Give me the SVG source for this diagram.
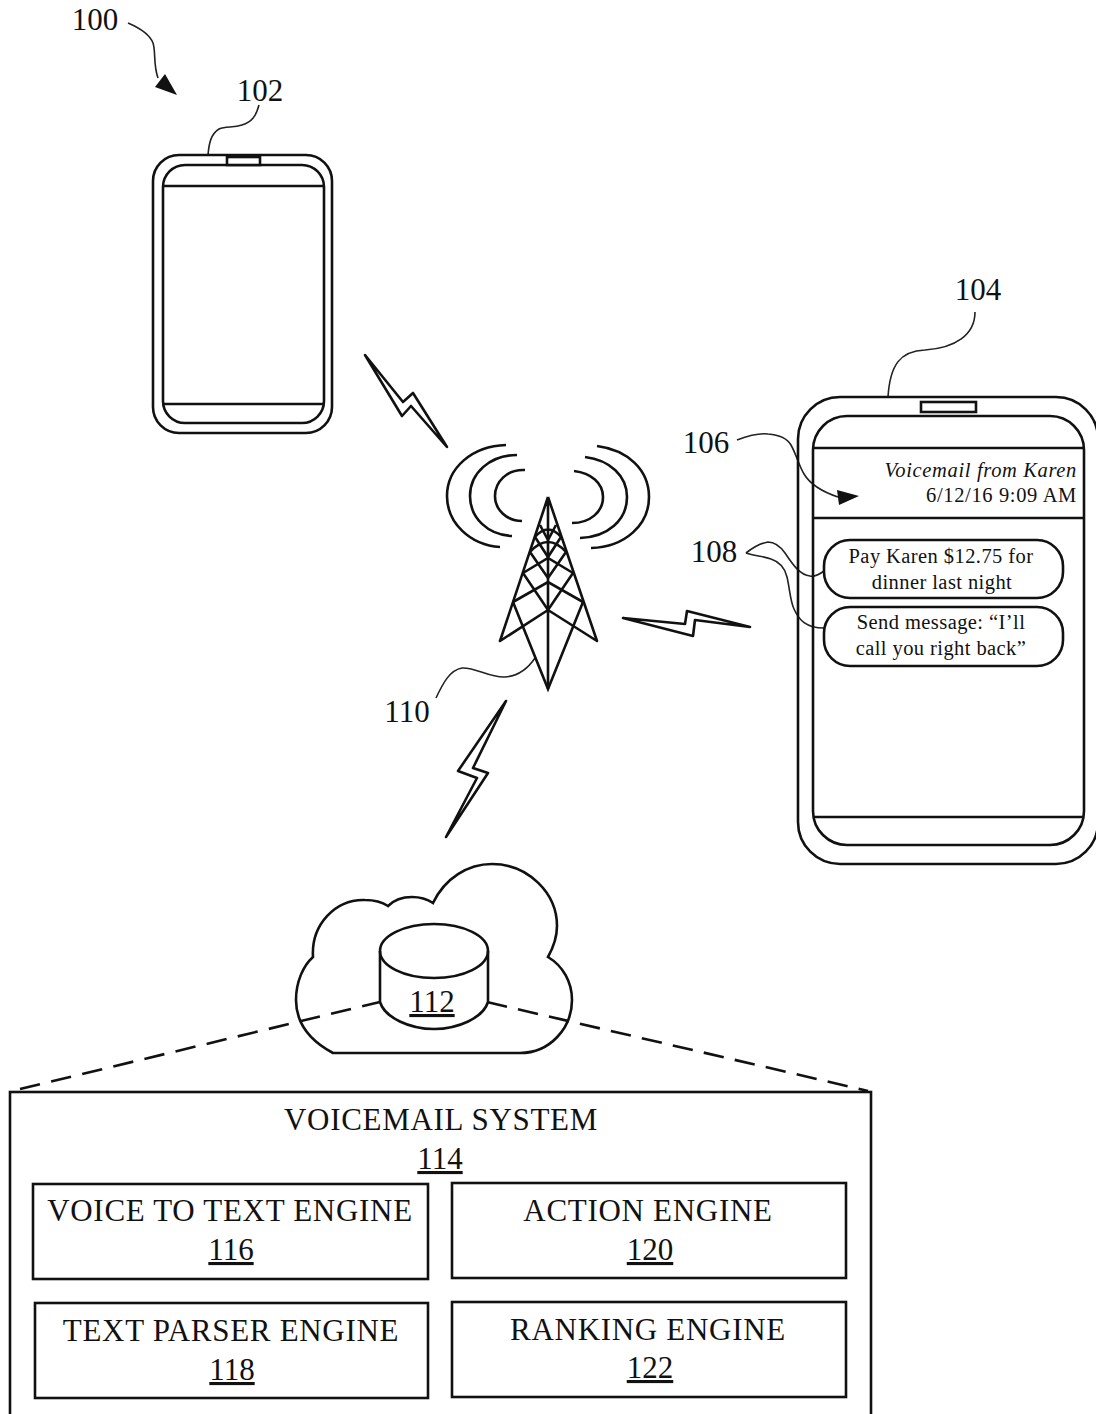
<svg xmlns="http://www.w3.org/2000/svg" width="1096" height="1414" viewBox="0 0 1096 1414">
<style>
text{font-family:"Liberation Serif","Times New Roman",serif;fill:#111}
.t{font-size:31px;text-anchor:middle}
.c{letter-spacing:.7px}
.u{text-decoration:underline}
.s{font-size:20.5px;text-anchor:middle;letter-spacing:.42px}
.e{font-size:20.5px;text-anchor:end;letter-spacing:.65px}
.l{fill:none;stroke:#111;stroke-width:2.6}
.m{fill:none;stroke:#111;stroke-width:2.6}
.h{fill:none;stroke:#222;stroke-width:1.6}
.b{fill:#fff;stroke:#111;stroke-width:2.6}
.a{fill:#111;stroke:none}
.d{fill:none;stroke:#111;stroke-width:2.6}
</style>
<rect width="1096" height="1414" fill="#fff"/>
<g id="connectors">
<path class="h" d="M128 23C142 29 150 35 153 43C156 52 153 64 158 78"/>
<path class="a" d="M155 87L165 74L177 95Z"/>
<path class="h" d="M259 105C256 116 252 122 242 125C233 128 226 126 219 129C211 134 209 143 208 155"/>
<path class="h" d="M975 312C975 335 955 348 925 350C900 351 890 365 888 397"/>
<path class="h" d="M737 440C750 435 760 433 768 434C780 435 787 438 791 445C797 456 799 466 804 474C810 484 820 491 838 497"/>
<path class="a" d="M837 490L859 496L839 505Z"/>
<path class="h" d="M746 553C755 546 762 543 768 542C775 542 780 546 785 553C793 565 800 575 810 576C815 577 820 574 824 571"/>
<path class="h" d="M746 553C755 556 763 556 771 559C780 562 785 568 787 577C790 590 790 600 794 609C799 620 806 628 824 628"/>
<path class="h" d="M436 698C443 683 450 670 462 668C475 667 490 678 505 677C518 676 527 670 535 658"/>
<path class="m" stroke-linejoin="round" d="M365 355L403 402L413 393L447 447L411 406L402 416Z"/>
<path class="m" stroke-linejoin="round" d="M623 618L685 624L687 611L750 627L695 620L693 636Z"/>
<path class="m" stroke-linejoin="round" d="M506 701L458 771L477 778L446 837L488 773L473 768Z"/>
<path class="d" stroke-dasharray="20.5 11.5" d="M20 1089L380 1002"/>
<path class="d" stroke-dasharray="20.5 11.3" d="M487 1002L868 1091"/>
</g>
<g id="node-102">
<rect class="l" x="153" y="155" width="179" height="278" rx="26"/>
<rect class="l" x="163" y="165" width="161" height="258" rx="22"/>
<path class="l" d="M163 186H324M163 404H324"/>
<rect class="b" x="227" y="157" width="33" height="8"/>
</g>
<g id="node-104">
<rect class="l" x="798" y="397" width="300" height="467" rx="42"/>
<rect class="l" x="813" y="416" width="271" height="429" rx="34"/>
<path class="l" d="M813 448H1084M813 518H1084M813 817H1084"/>
<rect class="b" x="921" y="402" width="55" height="10"/>
<text class="e" x="1077" y="477" font-style="italic">Voicemail from Karen</text>
<text class="e" x="1077" y="502">6/12/16 9:09 AM</text>
</g>
<g id="node-108a">
<rect class="l" x="824" y="540" width="239" height="58" rx="26"/>
<text class="s" x="941" y="563">Pay Karen $12.75 for</text>
<text class="s" x="942" y="589">dinner last night</text>
</g>
<g id="node-108b">
<rect class="l" x="824" y="607" width="239" height="59" rx="26"/>
<text class="s" x="941" y="629">Send message: “I’ll</text>
<text class="s" x="941" y="655">call you right back”</text>
</g>
<g id="node-110">
<path class="l" d="M506 445C472 446 447 468 447 496C447 523 470 545 500 547M517 455C490 455 470 473 470 496C470 518 488 535 512 536M525 470C507 469 495 482 495 496C495 510 507 521 522 521"/>
<path class="l" d="M597 446C628 450 649 470 649 497C649 525 625 547 591 548M585 457C610 460 627 476 627 497C627 520 608 537 580 538M574 471C591 473 603 483 603 497C603 512 590 523 572 523"/>
<path class="m" stroke-linejoin="round" d="M548 497V689M548 497L500 641L548 610L597 641L548 497"/>
<path class="m" d="M513 602L548 689L583 602"/>
<path class="m" d="M513 602L548 582L583 602M523 573L548 610L573 573M523 573L548 558L573 573"/>
<path class="m" stroke-width="2" d="M530 552L548 578L566 552M530 552Q548 532 566 552M535 537L548 557L561 537M535 537Q548 522 561 537M540 525L548 540L556 525"/>
</g>
<g id="node-cloud">
<path class="l" d="M333 1053C305 1038 296 1020 296 1000C296 982 303 966 313 957C311 925 335 899 365 900C375 900 382 902 388 906C394 900 403 897 412 897C420 897 427 899 433 903C445 878 468 864 492 864C528 864 557 893 557 926C557 937 553 948 548 957C563 966 572 982 572 1000C572 1028 550 1053 520 1053Z"/>
</g>
<g id="node-112">
<ellipse class="l" cx="434" cy="951" rx="54" ry="27"/>
<path class="l" d="M380 951V1002C385 1018 410 1029 434 1029C458 1029 483 1018 488 1002V951"/>
<text class="t u" x="432" y="1012">112</text>
</g>
<g id="node-114">
<rect class="l" x="10" y="1092" width="861" height="330"/>
<text class="t c" x="441" y="1130">VOICEMAIL SYSTEM</text>
<text class="t u" x="440" y="1169">114</text>
</g>
<g id="node-116">
<rect class="l" x="33" y="1184" width="395" height="95"/>
<text class="t c" x="230" y="1221">VOICE TO TEXT ENGINE</text>
<text class="t u" x="231" y="1260">116</text>
</g>
<g id="node-120">
<rect class="l" x="452" y="1183" width="394" height="95"/>
<text class="t c" x="648" y="1221">ACTION ENGINE</text>
<text class="t u" x="650" y="1260">120</text>
</g>
<g id="node-118">
<rect class="l" x="35" y="1303" width="393" height="95"/>
<text class="t c" x="231" y="1341">TEXT PARSER ENGINE</text>
<text class="t u" x="232" y="1380">118</text>
</g>
<g id="node-122">
<rect class="l" x="452" y="1302" width="394" height="95"/>
<text class="t c" x="648" y="1340">RANKING ENGINE</text>
<text class="t u" x="650" y="1378">122</text>
</g>
<g id="labels">
<text class="t" x="95" y="30">100</text>
<text class="t" x="260" y="101">102</text>
<text class="t" x="978" y="300">104</text>
<text class="t" x="706" y="453">106</text>
<text class="t" x="714" y="562">108</text>
<text class="t" x="407" y="722">110</text>
</g>
</svg>
